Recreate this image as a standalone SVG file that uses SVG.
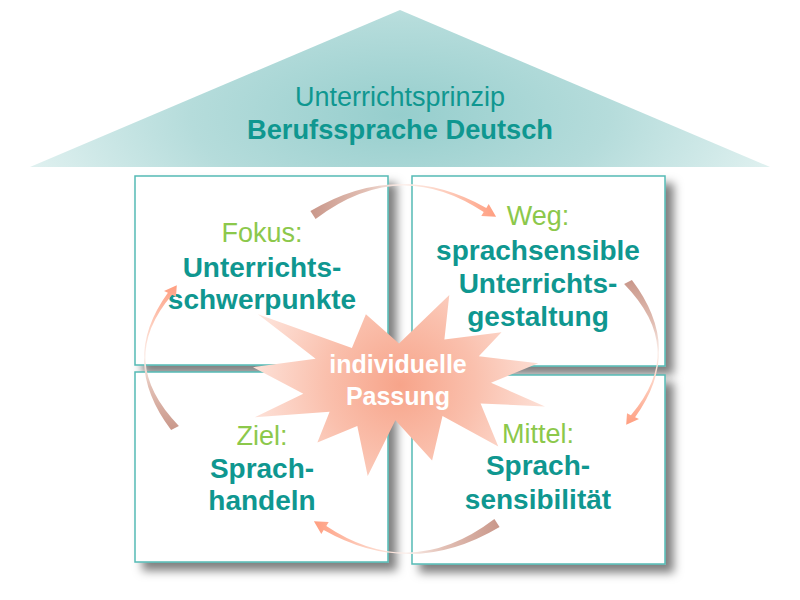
<svg xmlns="http://www.w3.org/2000/svg" width="800" height="600" viewBox="0 0 800 600">
<defs>
<radialGradient id="roofGrad" gradientUnits="userSpaceOnUse" cx="400" cy="115" r="380" gradientTransform="translate(400 115) scale(1 0.45) translate(-400 -115)">
<stop offset="0" stop-color="#96cecd"/>
<stop offset="0.55" stop-color="#b5dcdb"/>
<stop offset="1" stop-color="#def0ef"/>
</radialGradient>
<radialGradient id="starGrad" gradientUnits="userSpaceOnUse" cx="400" cy="385" r="150">
<stop offset="0" stop-color="#f7a48a"/>
<stop offset="0.5" stop-color="#fac0ad"/>
<stop offset="1" stop-color="#fde2d9"/>
</radialGradient>
<linearGradient id="arrowGrad" x1="0" y1="0" x2="1" y2="0">
<stop offset="0" stop-color="#c9978a"/>
<stop offset="0.3" stop-color="#e2bfb4"/>
<stop offset="0.5" stop-color="#fbf0ec"/>
<stop offset="0.7" stop-color="#fdd2c3"/>
<stop offset="1" stop-color="#ff9e80"/>
</linearGradient>
<filter id="shadow" x="-10%" y="-10%" width="130%" height="130%">
<feDropShadow dx="8" dy="8" stdDeviation="5" flood-color="#000" flood-opacity="0.5"/>
</filter>
<path id="arrowShape" d="M-2.6,-3.9 Q86,-56.5 173.3,-7.1 L175.7,-11.0 L183.1,1.8 L168.3,1.0 L170.7,-2.9 Q86,-59.5 2.6,3.9 Z"/>
</defs>
<style>
.box{fill:#ffffff;stroke:#55bab5;stroke-width:1.5;filter:url(#shadow)}
.lab{font-family:"Liberation Sans",Arial,sans-serif;font-size:27px;fill:#8cc84b;text-anchor:middle}
.main{font-family:"Liberation Sans",Arial,sans-serif;font-size:28px;font-weight:bold;fill:#0f9790;text-anchor:middle}
.star{font-family:"Liberation Sans",Arial,sans-serif;font-size:25px;font-weight:bold;fill:#ffffff;text-anchor:middle}
.roof1{font-family:"Liberation Sans",Arial,sans-serif;font-size:27px;fill:#0f9790;text-anchor:middle}
.roof2{font-family:"Liberation Sans",Arial,sans-serif;font-size:27px;font-weight:bold;fill:#0f9790;text-anchor:middle}
.arrow{fill:url(#arrowGrad)}
</style>
<rect width="800" height="600" fill="#ffffff"/>
<g id="roof">
<polygon points="400,10 770,167 30,167" fill="url(#roofGrad)"/>
<text class="roof1" x="400" y="106" textLength="210" lengthAdjust="spacingAndGlyphs">Unterrichtsprinzip</text>
<text class="roof2" x="400" y="139" textLength="306" lengthAdjust="spacingAndGlyphs">Berufssprache  Deutsch</text>
</g>
<g id="box-fokus">
<rect class="box" x="135" y="176" width="253" height="189"/>
<text class="lab" x="262" y="242">Fokus:</text>
<text class="main" x="262" y="277">Unterrichts-</text>
<text class="main" x="262" y="309">schwerpunkte</text>
</g>
<g id="box-weg">
<rect class="box" x="412" y="176" width="253" height="190"/>
<text class="lab" x="538" y="225">Weg:</text>
<text class="main" x="538" y="260">sprachsensible</text>
<text class="main" x="538" y="293">Unterrichts-</text>
<text class="main" x="538" y="326">gestaltung</text>
</g>
<g id="box-ziel">
<rect class="box" x="135" y="372" width="253" height="190"/>
<text class="lab" x="262" y="445">Ziel:</text>
<text class="main" x="262" y="478">Sprach-</text>
<text class="main" x="262" y="510">handeln</text>
</g>
<g id="box-mittel">
<rect class="box" x="412" y="375" width="253" height="189"/>
<text class="lab" x="538" y="443">Mittel:</text>
<text class="main" x="538" y="475">Sprach-</text>
<text class="main" x="538" y="509">sensibilität</text>
</g>
<g id="connectors">
<use href="#arrowShape" class="arrow" transform="translate(313,215)"/>
<use href="#arrowShape" class="arrow" transform="translate(628,282) rotate(90) scale(0.78,1)"/>
<use href="#arrowShape" class="arrow" transform="translate(497,523) rotate(180)"/>
<use href="#arrowShape" class="arrow" transform="translate(175,428) rotate(-90) scale(0.78,1)"/>
</g>
<g id="star-passung">
<polygon fill="url(#starGrad)" points="399.0,343.6 449.3,295.0 444.4,339.6 501.5,332.3 478.8,356.3 538.2,363.2 491.0,382.8 545.0,406.4 480.6,403.4 498.3,446.6 442.5,416.1 432.1,460.4 395.4,420.2 367.7,476.0 357.3,425.9 317.4,442.6 329.6,411.8 254.8,417.2 303.3,393.7 253.0,367.2 315.6,358.8 258.0,314.2 351.9,348.0 365.9,314.2"/>
<text class="star" x="398" y="373">individuelle</text>
<text class="star" x="398" y="405">Passung</text>
</g>
</svg>
